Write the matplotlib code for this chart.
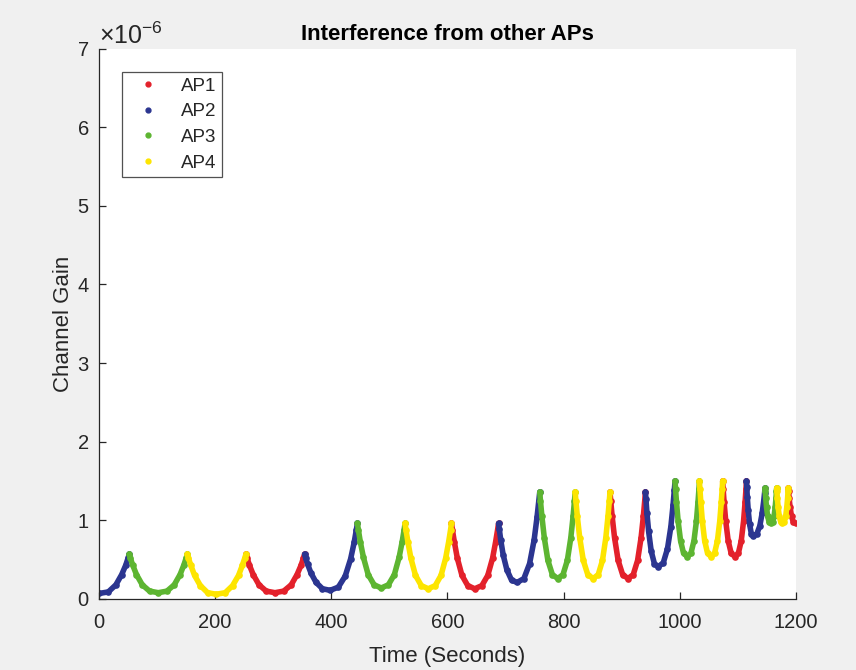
import numpy as np
import matplotlib
matplotlib.use("Agg")
import matplotlib.pyplot as plt
from matplotlib.lines import Line2D
from matplotlib.ticker import ScalarFormatter

plt.rcParams['font.family'] = ['Liberation Sans', 'DejaVu Sans']
plt.rcParams['mathtext.fontset'] = 'custom'
plt.rcParams['mathtext.rm'] = 'Liberation Sans'
plt.rcParams['mathtext.it'] = 'Liberation Sans'

nan = float('nan')

# channel gain values in units of 1e-6, segments separated by nan
ap1_time = [253, 255, 259, 265.5, 275.5, 288, 303, 318, 331, 341, 348, 352, 354, nan,
            607, 608.6, 611.8, 617, 625, 635, 647, 659.3, 669.5, 677.8, 683.1, 686.4, 688, nan,
            880, 881.2, 883.7, 887.8, 894, 901.7, 911, 920, 927.5, 933.5, 937.4, 939.8, 941, nan,
            1074, 1074.8, 1076.5, 1079.3, 1083.5, 1088.7, 1095, 1101, 1106, 1110, 1112.6, 1114.2, 1115, nan,
            1187, 1187.5, 1188.5, 1190.1, 1192.6, 1195.8, 1199.5]
ap1_gain = [0.57, 0.52, 0.43, 0.31, 0.18, 0.10, 0.08, 0.10, 0.18, 0.31, 0.43, 0.52, 0.57, nan,
            0.96, 0.88, 0.73, 0.52, 0.30, 0.17, 0.13, 0.17, 0.30, 0.52, 0.73, 0.88, 0.96, nan,
            1.36, 1.25, 1.05, 0.78, 0.49, 0.31, 0.26, 0.31, 0.49, 0.78, 1.05, 1.25, 1.36, nan,
            1.50, 1.40, 1.23, 0.99, 0.74, 0.58, 0.54, 0.58, 0.74, 0.99, 1.23, 1.40, 1.50, nan,
            1.41, 1.37, 1.28, 1.17, 1.05, 0.98, 0.96]

ap2_time = [0, 16, 29, 39, 46, 50, 52, nan,
            354, 355.8, 359.3, 365, 373.8, 384.8, 398, 412.1, 423.9, 433.3, 439.4, 443.1, 445, nan,
            688, 689.3, 691.8, 696, 702.4, 710.4, 720, 731.7, 741.5, 749.3, 754.3, 757.4, 759, nan,
            941, 941.9, 943.6, 946.5, 950.9, 956.4, 963, 971.7, 979, 984.8, 988.5, 990.8, 992, nan,
            1115, 1115.5, 1116.4, 1118, 1120.4, 1123.4, 1127, 1133, 1138, 1142, 1144.6, 1146.2, 1147]
ap2_gain = [0.07, 0.09, 0.18, 0.31, 0.43, 0.52, 0.57, nan,
            0.57, 0.52, 0.44, 0.33, 0.21, 0.13, 0.11, 0.15, 0.29, 0.51, 0.72, 0.88, 0.96, nan,
            0.96, 0.89, 0.75, 0.56, 0.37, 0.24, 0.21, 0.26, 0.45, 0.75, 1.04, 1.25, 1.36, nan,
            1.36, 1.27, 1.09, 0.86, 0.61, 0.45, 0.41, 0.46, 0.64, 0.92, 1.19, 1.39, 1.50, nan,
            1.50, 1.43, 1.30, 1.13, 0.95, 0.83, 0.80, 0.83, 0.93, 1.09, 1.24, 1.35, 1.41]

ap3_time = [52, 54, 58, 64.5, 74.5, 87, 102, 117, 129.5, 139.5, 146, 150, 152, nan,
            445, 446.6, 449.9, 455.3, 463.5, 473.7, 486, 498.3, 508.6, 516.8, 522.1, 525.4, 527, nan,
            759, 760.2, 762.7, 766.8, 773, 780.7, 790, 799, 806.5, 812.5, 816.4, 818.8, 820, nan,
            992, 992.8, 994.5, 997.3, 1001.5, 1006.7, 1013, 1019.3, 1024.6, 1028.8, 1031.5, 1033.2, 1034, nan,
            1147, 1147.4, 1148.2, 1149.5, 1151.5, 1154, 1157, 1160, 1162.5, 1164.5, 1165.8, 1166.6, 1167]
ap3_gain = [0.57, 0.52, 0.43, 0.31, 0.18, 0.10, 0.08, 0.10, 0.18, 0.31, 0.43, 0.52, 0.57, nan,
            0.96, 0.88, 0.73, 0.53, 0.31, 0.18, 0.14, 0.18, 0.31, 0.53, 0.73, 0.88, 0.96, nan,
            1.36, 1.25, 1.05, 0.78, 0.49, 0.31, 0.26, 0.31, 0.49, 0.78, 1.05, 1.25, 1.36, nan,
            1.50, 1.40, 1.23, 0.99, 0.74, 0.58, 0.54, 0.58, 0.74, 0.99, 1.23, 1.40, 1.50, nan,
            1.41, 1.37, 1.28, 1.17, 1.05, 0.98, 0.96, 0.98, 1.05, 1.17, 1.28, 1.37, 1.41]

ap4_time = [152, 154, 158, 164.5, 174.5, 187, 202, 217.3, 230, 240.3, 246.9, 251, 253, nan,
            527, 528.6, 531.8, 537, 545, 555, 567, 579, 589, 597, 602.2, 605.4, 607, nan,
            820, 821.2, 823.7, 827.8, 834, 841.7, 851, 859.7, 867, 872.8, 876.5, 878.8, 880, nan,
            1034, 1034.8, 1036.4, 1039, 1043, 1048, 1054, 1060, 1065, 1069, 1071.6, 1073.2, 1074, nan,
            1167, 1167.4, 1168.2, 1169.5, 1171.5, 1174, 1177, 1180, 1182.5, 1184.5, 1185.8, 1186.6, 1187]
ap4_gain = [0.57, 0.52, 0.43, 0.30, 0.17, 0.08, 0.06, 0.08, 0.17, 0.30, 0.43, 0.52, 0.57, nan,
            0.96, 0.88, 0.73, 0.52, 0.30, 0.17, 0.13, 0.17, 0.30, 0.52, 0.73, 0.88, 0.96, nan,
            1.36, 1.25, 1.05, 0.78, 0.49, 0.31, 0.26, 0.31, 0.49, 0.78, 1.05, 1.25, 1.36, nan,
            1.50, 1.40, 1.23, 0.99, 0.74, 0.58, 0.54, 0.58, 0.74, 0.99, 1.23, 1.40, 1.50, nan,
            1.41, 1.37, 1.28, 1.17, 1.05, 0.98, 0.96, 0.98, 1.05, 1.17, 1.28, 1.37, 1.41]

labels = ['AP1', 'AP2', 'AP3', 'AP4']
colors = ['#e3212b', '#2b3590', '#5db531', '#fde500']
series = [(ap1_time, ap1_gain), (ap2_time, ap2_gain), (ap3_time, ap3_gain), (ap4_time, ap4_gain)]

txt = '#262626'
fig = plt.figure(figsize=(8.56, 6.70), dpi=100, facecolor='#f0f0f0')
ax = fig.add_axes([0.1157, 0.106, 0.814, 0.8216])
ax.set_facecolor('white')

for (t, g), c in zip(series, colors):
    ax.plot(t, np.array(g) * 1e-6, color=c, lw=4.0, marker='o', ms=4.8, mew=0,
            solid_capstyle='round', solid_joinstyle='round')

ax.set_xlim(0, 1200)
ax.set_ylim(0, 7e-6)
ax.set_xticks(np.arange(0, 1201, 200))
ax.set_yticks(np.arange(0, 8) * 1e-6)
fmt = ScalarFormatter(useMathText=True)
fmt.set_powerlimits((-3, 3))
ax.yaxis.set_major_formatter(fmt)
ax.yaxis.get_offset_text().set_fontsize(18)
ax.yaxis.get_offset_text().set_color(txt)

for s in ['top', 'right']:
    ax.spines[s].set_visible(False)
for s in ['left', 'bottom']:
    ax.spines[s].set_color(txt)
    ax.spines[s].set_linewidth(0.9)
ax.tick_params(axis='both', direction='in', length=5, width=0.9, colors=txt, labelsize=14.5)
ax.tick_params(axis='x', pad=10)
ax.tick_params(axis='y', pad=7)

ax.set_title('Interference from other APs', fontsize=16, fontweight='bold', color='black', pad=6)
ax.set_xlabel('Time (Seconds)', fontsize=16, color=txt, labelpad=10)
ax.set_ylabel('Channel Gain', fontsize=16, color=txt, labelpad=2)

handles = [Line2D([], [], ls='none', marker='.', ms=7, color=c) for c in colors]
leg = ax.legend(handles, labels, loc='upper left', bbox_to_anchor=(0.033, 0.957),
                borderaxespad=0, fontsize=13.5, frameon=True, fancybox=False,
                handlelength=2.2, handletextpad=0.65, labelspacing=0.45,
                borderpad=0.3, edgecolor=txt)
leg.get_frame().set_linewidth(0.9)
for tx in leg.get_texts():
    tx.set_color(txt)

fig.savefig('out.png', dpi=100, facecolor=fig.get_facecolor())
